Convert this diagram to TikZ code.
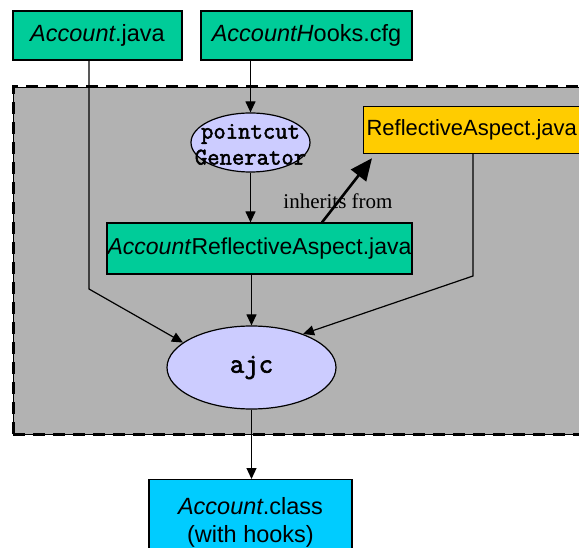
\documentclass[tikz,border=0pt]{standalone}
\usepackage{fontspec}
\setmainfont{Liberation Sans}
\newfontfamily\notefont{Liberation Serif}
\newfontfamily\codefont[AutoFakeBold=2.2]{Latin Modern Mono}
\usetikzlibrary{shapes.geometric,arrows.meta,calc}
\definecolor{filegreen}{HTML}{00CC99}
\definecolor{aspyellow}{HTML}{FFCC00}
\definecolor{proclav}{HTML}{CCCCFF}
\definecolor{outcyan}{HTML}{00CCFF}
\definecolor{regiongray}{HTML}{B2B2B2}
\begin{document}
\begin{tikzpicture}[x=1pt,y=-1pt,
  filebox/.style={draw, line width=1.2pt, inner sep=0pt, font=\fontsize{23.5}{28}\selectfont},
  procell/.style={ellipse, draw, line width=1.2pt, fill=proclav, inner sep=0pt},
  conn/.style={line width=1.2pt, -{Triangle[length=11pt,width=10pt]}},
  inherit/.style={line width=2.6pt, -{Triangle[length=22pt,width=19pt]}}]
\useasboundingbox (0,0) rectangle (579,548);
\clip (0,0) rectangle (579,548);
% region
\fill[regiongray] (13,87) rectangle (600,434);
\draw[line width=0.8pt] (13,87) rectangle (600,434);
\draw[line width=3pt, dash pattern=on 12pt off 8pt] (13,434) -- (13,87) -- (600,87);
\draw[line width=3pt, dash pattern=on 12pt off 8pt] (13,434) -- (600,434);
% nodes
\node[filebox, fill=filegreen, minimum width=169, minimum height=49] (acc) at (97.5,35.5) {\textit{Account}.java};
\node[filebox, fill=filegreen, minimum width=211, minimum height=49] (hooks) at (306.5,35.5) {\textit{AccountH}ooks.cfg};
\node[procell, minimum width=119, minimum height=59,
  label={[font=\codefont\bfseries\fontsize{24}{26}\selectfont, align=center, yshift=-2pt]center:pointcut\\Generator}] (pg) at (250.5,142.5) {};
\node[filebox, fill=aspyellow, anchor=north west, minimum height=47, text width=234pt, inner xsep=3pt, align=left, font=\fontsize{22}{26}\selectfont] (ra) at (363,106) {ReflectiveAspect.java};
\node[filebox, fill=filegreen, minimum width=305, minimum height=51, font=\fontsize{23}{28}\selectfont] (accra) at (259.5,248.5) {\textit{Account}ReflectiveAspect.java};
\node[font=\notefont\fontsize{21}{24}\selectfont, inner sep=0pt] (inh) at (338,201) {inherits from};
\node[procell, minimum width=169, minimum height=83, font=\codefont\bfseries\fontsize{28}{30}\selectfont] (ajc) at (251.5,367.5) {ajc};
\node[filebox, fill=outcyan, anchor=north, minimum width=203, minimum height=85, align=center] (cls) at (250.5,479) {\textit{Account}.class\\(with hooks)};
% connectors
\coordinate (bendA) at (89,289);
\coordinate (bendR) at (473,276);
\draw[conn] (acc.south -| bendA) -- (bendA) -- (ajc.160.6);
\draw[conn] (hooks.south -| pg.north) -- (pg.north);
\draw[conn] (pg.south) -- (pg.south |- accra.north);
\draw[conn] (accra.south -| ajc.north) -- (ajc.north);
\draw[conn] (ra.south -| bendR) -- (bendR) -- (ajc.33.3);
\draw[conn] (ajc.south) -- (ajc.south |- cls.north);
\draw[inherit] ($(accra.north)+(62.5,0)$) -- ($(ra.south west)+(9,4)$);
\end{tikzpicture}
\end{document}
